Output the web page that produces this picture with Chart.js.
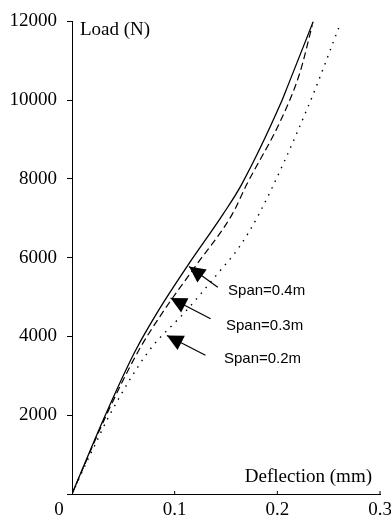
<!DOCTYPE html>
<html>
<head>
<meta charset="utf-8">
<script src="https://cdn.jsdelivr.net/npm/chart.js@4.4.0/dist/chart.umd.min.js"></script>
<style>
  html, body { margin: 0; padding: 0; background: #fff; }
  #wrap { width: 391px; height: 521px; }
</style>
</head>
<body>
<div id="wrap"><canvas id="loadChart" width="391" height="521"></canvas></div>
<script>
// Data (deflection in mm, load in N)
const defl04 = [0, 0.032, 0.061, 0.084, 0.112, 0.147, 0.165, 0.203, 0.210, 0.235];
const load04 = [0, 1975, 3600, 4650, 5775, 7100, 7850, 9900, 10350, 12000];

const defl03 = [0, 0.033, 0.064, 0.088, 0.120, 0.156, 0.170, 0.204, 0.222, 0.234];
const load03 = [0, 1975, 3600, 4600, 5775, 7100, 7850, 9525, 10700, 11900];

const defl02 = [0, 0.014, 0.022, 0.035, 0.074, 0.112, 0.142, 0.163, 0.183, 0.231, 0.260];
const load02 = [0, 800, 1225, 1925, 3600, 4675, 5600, 6275, 7150, 9900, 11850];

const xTicks = [0, 0.1, 0.2, 0.3];
const xTickLabels = ["0", "0.1", "0.2", "0.3"];
const yTicks = [0, 2000, 4000, 6000, 8000, 10000, 12000];

// arrow annotations: tip, tail and label anchor in data units
const spanLabels = ["Span=0.4m", "Span=0.3m", "Span=0.2m"];
const arrowTips = [[0.114, 5775], [0.096, 4975], [0.0925, 4025]];
const arrowTails = [[0.142, 5250], [0.135, 4450], [0.130, 3525]];
const labelAt = [[0.152, 5150], [0.150, 4275], [0.148, 3425]];

const serif = '"Liberation Serif", "Times New Roman", serif';
const sans = '"Liberation Sans", Arial, sans-serif';

function pts(xs, ys) {
  return xs.map((x, i) => ({ x: x, y: ys[i] }));
}

// draws x tick labels, axis titles and arrows
const extras = {
  id: "extras",
  afterDraw(chart) {
    const ctx = chart.ctx;
    const xs = chart.scales.x;
    const ys = chart.scales.y;
    const base = ys.getPixelForValue(0);
    ctx.save();
    ctx.fillStyle = "#000";
    ctx.strokeStyle = "#000";

    // x ticks (inside) and labels
    ctx.font = "19px " + serif;
    ctx.textAlign = "center";
    ctx.textBaseline = "middle";
    xTicks.forEach((v, i) => {
      const px = xs.getPixelForValue(v);
      if (v > 0) {
        ctx.lineWidth = 1;
        ctx.beginPath();
        ctx.moveTo(px, base);
        ctx.lineTo(px, base - 3);
        ctx.stroke();
      }
      ctx.fillText(xTickLabels[i], v === 0 ? px - 13 : px, base + 16);
    });

    // axis titles
    ctx.textAlign = "left";
    ctx.fillText("Load (N)", xs.getPixelForValue(0) + 8, ys.getPixelForValue(12000) + 9);
    ctx.textAlign = "right";
    ctx.fillText("Deflection (mm)", xs.getPixelForValue(0.3) - 8, base - 17);

    // arrows
    ctx.font = "15px " + sans;
    ctx.textAlign = "left";
    spanLabels.forEach((txt, i) => {
      const tx = xs.getPixelForValue(arrowTips[i][0]);
      const ty = ys.getPixelForValue(arrowTips[i][1]);
      const sx = xs.getPixelForValue(arrowTails[i][0]);
      const sy = ys.getPixelForValue(arrowTails[i][1]);
      const ang = Math.atan2(ty - sy, tx - sx);
      ctx.lineWidth = 1.2;
      ctx.beginPath();
      ctx.moveTo(sx, sy);
      ctx.lineTo(tx, ty);
      ctx.stroke();
      const len = 16, half = 8;
      const bx = tx - len * Math.cos(ang);
      const by = ty - len * Math.sin(ang);
      ctx.beginPath();
      ctx.moveTo(tx, ty);
      ctx.lineTo(bx + half * Math.sin(ang), by - half * Math.cos(ang));
      ctx.lineTo(bx - half * Math.sin(ang), by + half * Math.cos(ang));
      ctx.closePath();
      ctx.fill();
      ctx.fillText(txt, xs.getPixelForValue(labelAt[i][0]), ys.getPixelForValue(labelAt[i][1]));
    });
    ctx.restore();
  },
};

const lineCommon = {
  borderColor: "#000",
  pointRadius: 0,
  fill: false,
  cubicInterpolationMode: "monotone",
};

new Chart(document.getElementById("loadChart").getContext("2d"), {
  type: "line",
  data: {
    datasets: [
      Object.assign({ label: "Span=0.4m", data: pts(defl04, load04), borderWidth: 1.3 }, lineCommon),
      Object.assign({ label: "Span=0.3m", data: pts(defl03, load03), borderWidth: 1.2, borderDash: [7, 4] }, lineCommon),
      Object.assign({ label: "Span=0.2m", data: pts(defl02, load02), borderWidth: 1.4, borderDash: [1.5, 6] }, lineCommon),
    ],
  },
  options: {
    responsive: false,
    animation: false,
    events: [],
    layout: { padding: { top: 14, right: 11, left: 0, bottom: 0 } },
    plugins: {
      legend: { display: false },
      tooltip: { enabled: false },
    },
    scales: {
      x: {
        type: "linear",
        min: 0,
        max: 0.3,
        grid: { display: false },
        border: { display: true, color: "#000", width: 1 },
        ticks: { display: false },
        afterFit(scale) { scale.height = 27; },
      },
      y: {
        min: 0,
        max: 12000,
        afterBuildTicks(scale) { scale.ticks = yTicks.map((v) => ({ value: v })); },
        grid: { drawOnChartArea: false, drawTicks: true, tickLength: 5, color: "#000" },
        border: { display: true, color: "#000", width: 1 },
        ticks: {
          color: "#000",
          padding: 10,
          font: { family: serif, size: 19 },
          callback: (v) => (v === 0 ? "" : String(v)),
        },
        afterFit(scale) { scale.width = 72; },
      },
    },
  },
  plugins: [extras],
});
</script>
</body>
</html>
